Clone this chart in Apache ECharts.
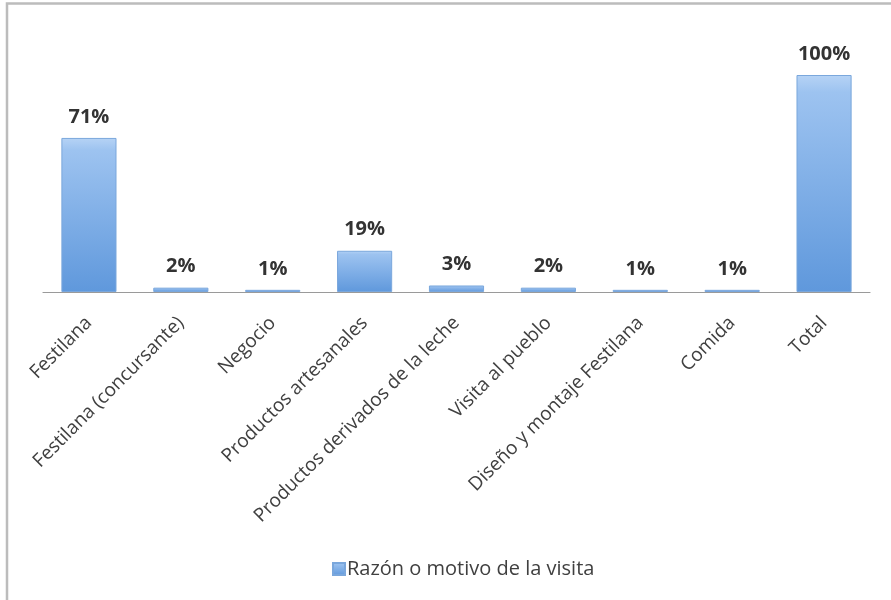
<!DOCTYPE html>
<html>
<head>
<meta charset="utf-8">
<script src="https://cdn.jsdelivr.net/npm/echarts@6/dist/echarts.min.js"></script>
<style>
  html, body { margin: 0; padding: 0; background: #ffffff; }
  #chart { width: 891px; height: 600px; }
</style>
</head>
<body>
<div id="chart"></div>
<script>
// Visit reasons and their share of respondents (%)
const categories = [
  'Festilana',
  'Festilana (concursante)',
  'Negocio',
  'Productos artesanales',
  'Productos derivados de la leche',
  'Visita al pueblo',
  'Diseño y montaje Festilana',
  'Comida',
  'Total'
];
const visitShare = [71, 2, 1, 19, 3, 2, 1, 1, 100];
const seriesName = 'Razón o motivo de la visita';

const FONT = '"Open Sans", "Noto Sans", sans-serif';

const barFill = new echarts.graphic.LinearGradient(0, 0, 0, 1, [
  { offset: 0, color: '#b6d3f5' },
  { offset: 0.08, color: '#9dc3f0' },
  { offset: 1, color: '#5f98dc' }
]);

const chart = echarts.init(document.getElementById('chart'), null, { renderer: 'canvas' });

chart.setOption({
  backgroundColor: '#ffffff',
  animation: false,
  graphic: [{
    type: 'rect',
    shape: { x: 7, y: 3.5, width: 1000, height: 1000 },
    style: { fill: 'none', stroke: '#bcbcbc', lineWidth: 2.5 },
    silent: true
  }],
  grid: { left: 43, right: 21, top: 75, bottom: 308, containLabel: false },
  legend: {
    left: 327,
    top: 554,
    itemWidth: 12,
    itemHeight: 12,
    icon: 'rect',
    textStyle: { fontFamily: FONT, fontSize: 20, color: '#404040', padding: [0, 0, 0, -3] },
    data: [seriesName]
  },
  xAxis: {
    type: 'category',
    data: categories,
    axisLine: { show: true, lineStyle: { color: '#9a9a9a', width: 1.2 } },
    axisTick: { show: false },
    axisLabel: {
      interval: 0,
      rotate: 45,
      margin: 28,
      fontFamily: FONT,
      fontSize: 19,
      color: '#404040'
    }
  },
  yAxis: {
    type: 'value',
    min: 0,
    max: 100,
    show: false,
    splitLine: { show: false }
  },
  series: [{
    name: seriesName,
    type: 'bar',
    data: visitShare,
    barWidth: '60%',
    itemStyle: {
      color: barFill,
      borderColor: '#7aa7dc',
      borderWidth: 1
    },
    label: {
      show: true,
      position: 'top',
      distance: 11,
      formatter: '{c}%',
      fontFamily: FONT,
      fontSize: 20,
      fontWeight: 'bold',
      color: '#333333'
    }
  }]
});
</script>
</body>
</html>
